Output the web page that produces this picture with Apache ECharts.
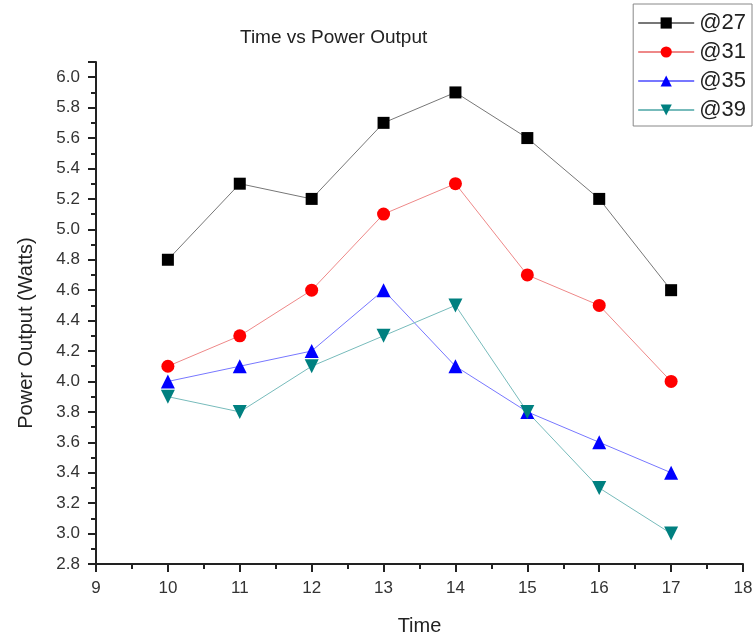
<!DOCTYPE html>
<html>
<head>
<meta charset="utf-8">
<script src="https://cdn.jsdelivr.net/npm/echarts@6/dist/echarts.min.js"></script>
<style>
html, body { margin: 0; padding: 0; background: #fff; }
#chart { width: 756px; height: 638px; }
</style>
</head>
<body>
<div id="chart"></div>
<script>
// Time vs Power Output
var times = [10, 11, 12, 13, 14, 15, 16, 17];
var p27 = [4.8, 5.3, 5.2, 5.7, 5.9, 5.6, 5.2, 4.6];
var p31 = [4.1, 4.3, 4.6, 5.1, 5.3, 4.7, 4.5, 4.0];
var p35 = [4.0, 4.1, 4.2, 4.6, 4.1, 3.8, 3.6, 3.4];
var p39 = [3.9, 3.8, 4.1, 4.3, 4.5, 3.8, 3.3, 3.0];

function pairs(ys){
	var out = [];
	for(var i=0;i<times.length;i++){
		out.push([times[i], ys[i]]);
	}
	return out;
}

var font = 'Liberation Sans, Arial, sans-serif';
var myChart = echarts.init(document.getElementById('chart'));
var option = {
	animation: false,
	title: {
		text: 'Time vs Power Output',
		left: 240,
		top: 28,
		padding: 0,
		textStyle: { fontFamily: font, fontSize: 19, fontWeight: 'normal', color: '#222' }
	},
	legend: {
		orient: 'vertical',
		right: 4,
		top: 4,
		padding: [8, 6, 5, 4],
		itemGap: 7,
		itemWidth: 56,
		itemHeight: 14,
		borderColor: '#888',
		borderWidth: 1,
		textStyle: { fontFamily: font, fontSize: 22, color: '#222' },
		data: ['@27', '@31', '@35', '@39']
	},
	grid: { left: 96, right: 13, top: 62, bottom: 74, outerBoundsMode: 'none', containLabel: false },
	xAxis: {
		type: 'value',
		min: 9,
		max: 18,
		interval: 1,
		name: 'Time',
		nameLocation: 'middle',
		nameGap: 52,
		nameTextStyle: { fontFamily: font, fontSize: 20, color: '#222' },
		splitLine: { show: false },
		axisLine: { lineStyle: { color: '#222', width: 2 } },
		axisTick: { inside: false, length: 8, lineStyle: { color: '#222', width: 2 } },
		minorTick: { show: true, splitNumber: 2, length: 5, lineStyle: { color: '#222', width: 2 } },
		axisLabel: { fontFamily: font, fontSize: 17, color: '#333', margin: 16 }
	},
	yAxis: {
		type: 'value',
		min: 2.8,
		max: 6.1,
		interval: 0.2,
		name: 'Power Output (Watts)',
		nameLocation: 'middle',
		nameGap: 60,
		nameTextStyle: { fontFamily: font, fontSize: 20, color: '#222', padding: [0, 40, 0, 0] },
		splitLine: { show: false },
		axisLine: { show: true, lineStyle: { color: '#222', width: 2 } },
		axisTick: { inside: false, length: 8, lineStyle: { color: '#222', width: 2 } },
		minorTick: { show: true, splitNumber: 2, length: 5, lineStyle: { color: '#222', width: 2 } },
		axisLabel: {
			fontFamily: font, fontSize: 17, color: '#333', margin: 16, showMaxLabel: false,
			formatter: function(v){ return v.toFixed(1); }
		}
	},
	series: [
		{
			name: '@27',
			type: 'line',
			data: pairs(p27),
			symbol: 'rect',
			symbolSize: 12,
			itemStyle: { color: '#000' },
			lineStyle: { color: '#777', width: 1 }
		},{
			name: '@31',
			type: 'line',
			data: pairs(p31),
			symbol: 'circle',
			symbolSize: 13,
			itemStyle: { color: '#ff0000' },
			lineStyle: { color: '#e88', width: 1 }
		},{
			name: '@35',
			type: 'line',
			data: pairs(p35),
			symbol: 'triangle',
			symbolSize: 14,
			itemStyle: { color: '#0000ff' },
			lineStyle: { color: '#77f', width: 1 }
		},{
			name: '@39',
			type: 'line',
			data: pairs(p39),
			symbol: 'triangle',
			symbolRotate: 180,
			symbolSize: 14,
			itemStyle: { color: '#008080' },
			lineStyle: { color: '#7bb', width: 1 }
		}
	]
};
myChart.setOption(option);
</script>
</body>
</html>
